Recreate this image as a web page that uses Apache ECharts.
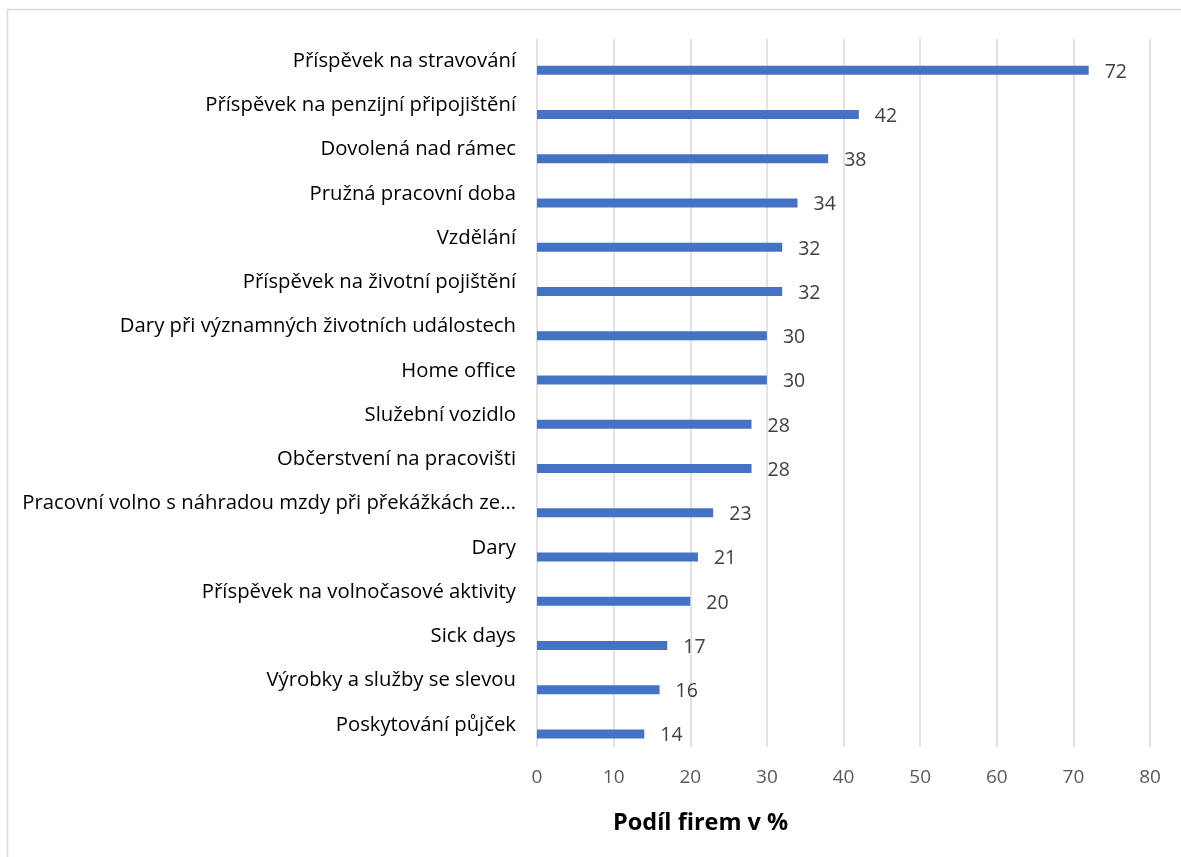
<!DOCTYPE html>
<html>
<head>
<meta charset="utf-8">
<script src="https://cdn.jsdelivr.net/npm/echarts@6/dist/echarts.min.js"></script>
<style>
html,body{margin:0;padding:0;background:#fff;}
#c{width:1181px;height:857px;}
</style>
</head>
<body>
<div id="c"></div>
<script>
const categories = [
  "Příspěvek na stravování",
  "Příspěvek na penzijní připojištění",
  "Dovolená nad rámec",
  "Pružná pracovní doba",
  "Vzdělání",
  "Příspěvek na životní pojištění",
  "Dary při významných životních událostech",
  "Home office",
  "Služební vozidlo",
  "Občerstvení na pracovišti",
  "Pracovní volno s náhradou mzdy při překážkách ze…",
  "Dary",
  "Příspěvek na volnočasové aktivity",
  "Sick days",
  "Výrobky a služby se slevou",
  "Poskytování půjček"
];
const values = [72, 42, 38, 34, 32, 32, 30, 30, 28, 28, 23, 21, 20, 17, 16, 14];
const axisTitle = "Podíl firem v %";

const font = "'Open Sans', 'Noto Sans', sans-serif";
const chart = echarts.init(document.getElementById('c'), null, {renderer: 'canvas'});
chart.setOption({
  animation: false,
  backgroundColor: '#fff',
  grid: [
    {left: 537, right: 31, top: 39, bottom: 110, containLabel: false},
    {left: 537, right: 31, top: 48, bottom: 101, containLabel: false}
  ],
  xAxis: [{
    gridIndex: 0, type: 'value', min: 0, max: 80, interval: 10,
    axisLine: {show: false}, axisTick: {show: false},
    splitLine: {lineStyle: {color: '#d9d9d9', width: 1.5}},
    axisLabel: {color: '#595959', fontSize: 19, fontFamily: font, margin: 21}
  }, {
    gridIndex: 1, type: 'value', min: 0, max: 80, interval: 10, show: false,
    splitLine: {show: false}
  }],
  yAxis: [{
    gridIndex: 0, type: 'category', data: categories, inverse: true,
    axisLine: {show: false}, axisTick: {show: false},
    axisLabel: {color: '#000', fontSize: 20.3, fontFamily: font, margin: 21}
  }, {
    gridIndex: 1, type: 'category', data: categories, inverse: true, show: false
  }],
  series: [{
    type: 'bar', xAxisIndex: 1, yAxisIndex: 1, data: values, barWidth: 9,
    itemStyle: {color: '#4472c4'},
    label: {show: true, position: 'right', distance: 16, color: '#404040', fontSize: 19.5, fontFamily: font, offset: [0, 2]}
  }],
  graphic: [
    {type: 'rect', shape: {x: 7.5, y: 9.5, width: 1200, height: 900}, style: {fill: 'none', stroke: '#d9d9d9', lineWidth: 1.5}, silent: true},
    {type: 'text', left: 613, top: 811, style: {text: axisTitle, fontSize: 23.5, fontWeight: 'bold', fontFamily: font, fill: '#000'}}
  ]
});
</script>
</body>
</html>
